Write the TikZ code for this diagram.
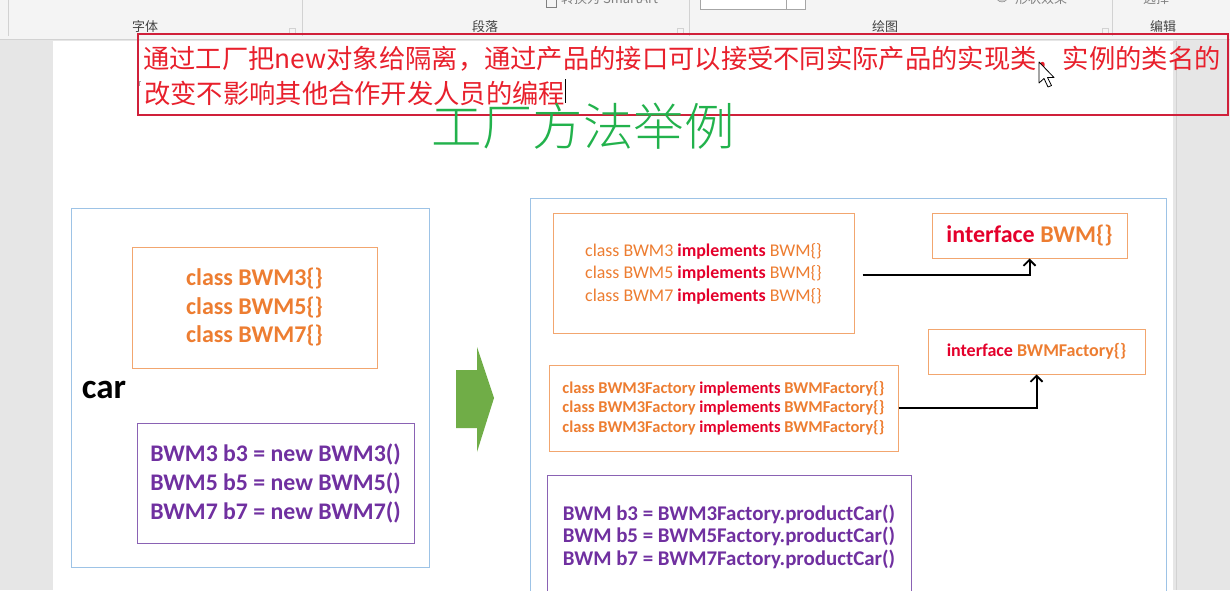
\documentclass[tikz,border=0pt]{standalone}
\usepackage{fontspec}
\setmainfont{Carlito}
\newfontfamily\cjk{Noto Sans CJK SC}
\newfontfamily\cjklight{Noto Sans CJK SC Light}
\usetikzlibrary{arrows.meta}
\definecolor{ribbonbg}{HTML}{F4F4F4}
\definecolor{pagegrey}{HTML}{E6E6E6}
\definecolor{sepgrey}{HTML}{D2D2D2}
\definecolor{labgrey}{HTML}{444444}
\definecolor{hdrred}{HTML}{E8202C}
\definecolor{hdrborder}{HTML}{D0203A}
\definecolor{titlegreen}{HTML}{22B24C}
\definecolor{lblue}{HTML}{9DC3E6}
\definecolor{oborder}{HTML}{F2A66F}
\definecolor{otext}{HTML}{ED7D31}
\definecolor{impred}{HTML}{E4002B}
\definecolor{ptext}{HTML}{7030A0}
\definecolor{pborder}{HTML}{8A62B4}
\definecolor{arrowgreen}{HTML}{70AD47}
\newcommand\kwred[1]{\textcolor{impred}{\bfseries #1}}
\begin{document}
\begin{tikzpicture}[x=1pt,y=-1pt,
  box/.style={draw, rectangle, inner sep=0pt, align=center, line width=1pt},
  orangebox/.style={box, draw=oborder, text=otext},
  purplebox/.style={box, draw=pborder, text=ptext},
  container/.style={box, draw=lblue},
  ribbonlabel/.style={font=\cjk\fontsize{13}{15}\selectfont, text=labgrey, inner sep=0pt},
  ribbonfrag/.style={font=\cjk\fontsize{13}{15}\selectfont, text=gray, inner sep=0pt},
  hdr/.style={font=\cjk\fontsize{26.3}{30}\selectfont, text=hdrred, inner sep=0pt},
  conn/.style={line width=2pt, -{Straight Barb[length=6pt,width=12pt,line width=1.8pt]}}
]
\useasboundingbox (0,0) rectangle (1230,590);
\clip (0,0) rectangle (1230,590);
% window background
\fill[ribbonbg] (0,0) rectangle (1230,40);
\fill[pagegrey] (0,40) rectangle (1230,590);
\draw[sepgrey] (0,39.5) -- (1230,39.5);
\fill[white] (53,41) rectangle (1173,590);
\draw[sepgrey, line width=1pt] (1176,41) -- (1176,590);
% ribbon separators and group labels
\foreach \sx in {8,302,689,1112} \draw[sepgrey] (\sx,0) -- (\sx,36);
\foreach \lx in {292,680,1105} \draw[sepgrey] (\lx-3,28) rectangle (\lx+3,34);
\node[ribbonlabel] (lab1) at (145,27) {字体};
\node[ribbonlabel] (lab2) at (485,27) {段落};
\node[ribbonlabel] (lab3) at (885,27) {绘图};
\node[ribbonlabel] (lab4) at (1163,27) {编辑};
% cut-off ribbon items
\draw[gray] (546,-4) rectangle (556,7);
\node[ribbonfrag, anchor=west] (frag1) at (561,-1) {转换为 SmartArt};
\draw[gray!70, fill=white] (700,-4) rectangle (805,9);
\draw[gray!70] (786,-4) -- (786,9);
\draw[gray, fill=gray!40] (1002,-4) circle (6);
\node[ribbonfrag, anchor=west] (frag2) at (1015,-1) {形状效果};
\node[ribbonfrag, anchor=west] (frag3) at (1143,-1) {选择};
% header text box
\draw[hdrborder, line width=1.2pt] (138,34) rectangle (1228,115);
\node[hdr, anchor=west] (h1) at (143,59) {通过工厂把new对象给隔离，通过产品的接口可以接受不同实际产品的实现类，实例的类名的};
\node[hdr, anchor=west] (h2) at (144,93.5) {改变不影响其他合作开发人员的编程};
\draw[black, line width=0.8pt] (565,79) -- (565,103);
\draw[gray!70, line width=0.8pt] (141,81) -- (139,81) -- (139,86);
% title
\node[font=\cjklight\fontsize{50.5}{55}\selectfont, text=titlegreen, inner sep=0pt] (title) at (583,126) {工厂方法举例};
% mouse pointer
\draw[black, fill=white, line width=0.8pt, line join=round]
  (1039,62) -- (1039,83) -- (1044,78.5) -- (1048,87) -- (1051.5,85.5) -- (1047.5,77.5) -- (1054,77.5) -- cycle;
% left part
\node[container, minimum width=358, minimum height=359] (leftc) at (250,387.5) {};
\node[orangebox, minimum width=245, minimum height=121,
      font=\bfseries\fontsize{24}{28.5}\selectfont] (oldcls) at (254.5,307.5)
  {class BWM3\{\}\\class BWM5\{\}\\class BWM7\{\}};
\node[font=\bfseries\fontsize{35}{40}\selectfont, inner sep=0pt] (car) at (104,390) {car};
\node[purplebox, minimum width=277, minimum height=120,
      font=\bfseries\fontsize{23.8}{29}\selectfont] (oldnew) at (275.5,483)
  {BWM3 b3 = new BWM3()\\BWM5 b5 = new BWM5()\\BWM7 b7 = new BWM7()};
% green arrow
\fill[arrowgreen] (456,370) -- (477,370) -- (477,347) -- (494,398) -- (477,452) -- (477,428) -- (456,428) -- cycle;
% right part
\node[container, minimum width=636, minimum height=402] (rightc) at (848,399) {};
\node[orangebox, minimum width=301, minimum height=120,
      font=\fontsize{17.9}{22.5}\selectfont] (impls) at (703.5,273.5)
  {class BWM3 \kwred{implements} BWM\{\}\\class BWM5 \kwred{implements} BWM\{\}\\class BWM7 \kwred{implements} BWM\{\}};
\node[orangebox, minimum width=195, minimum height=45,
      font=\bfseries\fontsize{24}{28}\selectfont] (ifbwm) at (1029.5,235.5)
  {\kwred{interface} BWM\{\}};
\node[orangebox, minimum width=217, minimum height=45,
      font=\bfseries\fontsize{18}{22}\selectfont] (iffac) at (1036.5,351.5)
  {\kwred{interface} BWMFactory\{\}};
\node[orangebox, minimum width=349, minimum height=86,
      font=\bfseries\fontsize{16.5}{19.7}\selectfont] (facs) at (723.5,408)
  {class BWM3Factory \kwred{implements} BWMFactory\{\}\\class BWM3Factory \kwred{implements} BWMFactory\{\}\\class BWM3Factory \kwred{implements} BWMFactory\{\}};
\node[purplebox, minimum width=364, minimum height=122,
      font=\bfseries\fontsize{20.9}{22.6}\selectfont] (newuse) at (729,536.5)
  {BWM b3 = BWM3Factory.productCar()\\BWM b5 = BWM5Factory.productCar()\\BWM b7 = BWM7Factory.productCar()};
% connectors
\draw[conn] ([xshift=8pt,yshift=-1pt]impls.east) -| (ifbwm.south);
\draw[conn] (facs.east) -| (iffac.south);
\end{tikzpicture}
\end{document}
